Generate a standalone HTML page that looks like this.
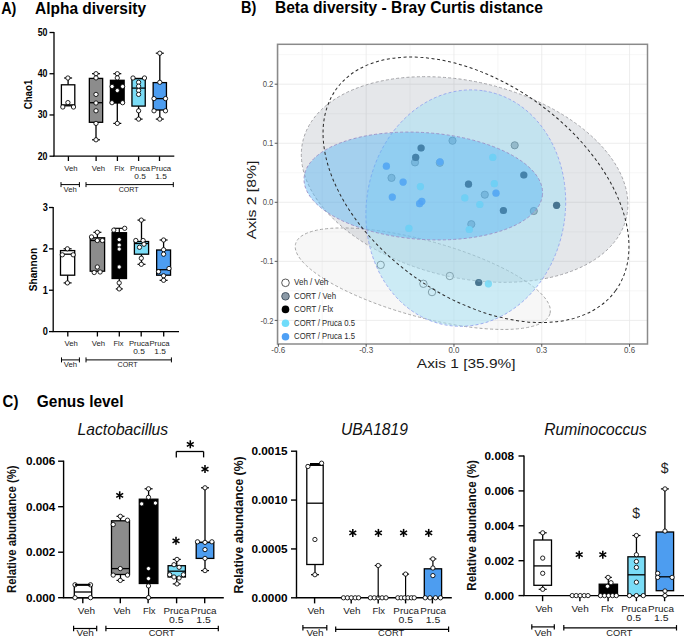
<!DOCTYPE html><html><head><meta charset="utf-8"><style>html,body{margin:0;padding:0;background:#fff;width:685px;height:638px;overflow:hidden}svg{display:block}text{font-family:"Liberation Sans",sans-serif}</style></head><body><svg width="685" height="638" viewBox="0 0 685 638" font-family="Liberation Sans, sans-serif">
<rect width="685" height="638" fill="#fff"/>
<text x="1.2" y="13.6" font-size="16.3" font-weight="bold" font-style="normal" text-anchor="start" fill="#000" textLength="15.2" lengthAdjust="spacingAndGlyphs">A)</text>
<text x="35" y="13.6" font-size="16.3" font-weight="bold" font-style="normal" text-anchor="start" fill="#000" textLength="111" lengthAdjust="spacingAndGlyphs">Alpha diversity</text>
<text x="241" y="13.4" font-size="16.3" font-weight="bold" font-style="normal" text-anchor="start" fill="#000" textLength="15.3" lengthAdjust="spacingAndGlyphs">B)</text>
<text x="274.9" y="13.4" font-size="16.3" font-weight="bold" font-style="normal" text-anchor="start" fill="#000" textLength="268" lengthAdjust="spacingAndGlyphs">Beta diversity - Bray Curtis distance</text>
<text x="2.6" y="406.9" font-size="16.3" font-weight="bold" font-style="normal" text-anchor="start" fill="#000" textLength="15.8" lengthAdjust="spacingAndGlyphs">C)</text>
<text x="36.8" y="406.9" font-size="16.3" font-weight="bold" font-style="normal" text-anchor="start" fill="#000" textLength="86.7" lengthAdjust="spacingAndGlyphs">Genus level</text>
<line x1="54" y1="31.9" x2="54" y2="156.2" stroke="#000" stroke-width="1.3"/>
<line x1="53.4" y1="156.2" x2="174.3" y2="156.2" stroke="#000" stroke-width="1.3"/>
<line x1="49.5" y1="32.5" x2="54" y2="32.5" stroke="#000" stroke-width="1.3"/>
<text x="47.5" y="35.9" font-size="10" font-weight="bold" font-style="normal" text-anchor="end" fill="#000" textLength="9.8" lengthAdjust="spacingAndGlyphs">50</text>
<line x1="49.5" y1="73.73333333333332" x2="54" y2="73.73333333333332" stroke="#000" stroke-width="1.3"/>
<text x="47.5" y="77.13333333333333" font-size="10" font-weight="bold" font-style="normal" text-anchor="end" fill="#000" textLength="9.8" lengthAdjust="spacingAndGlyphs">40</text>
<line x1="49.5" y1="114.96666666666665" x2="54" y2="114.96666666666665" stroke="#000" stroke-width="1.3"/>
<text x="47.5" y="118.36666666666666" font-size="10" font-weight="bold" font-style="normal" text-anchor="end" fill="#000" textLength="9.8" lengthAdjust="spacingAndGlyphs">30</text>
<line x1="49.5" y1="156.2" x2="54" y2="156.2" stroke="#000" stroke-width="1.3"/>
<text x="47.5" y="159.6" font-size="10" font-weight="bold" font-style="normal" text-anchor="end" fill="#000" textLength="9.8" lengthAdjust="spacingAndGlyphs">20</text>
<line x1="68.4" y1="156.2" x2="68.4" y2="161" stroke="#000" stroke-width="1.3"/>
<line x1="96.1" y1="156.2" x2="96.1" y2="161" stroke="#000" stroke-width="1.3"/>
<line x1="117.4" y1="156.2" x2="117.4" y2="161" stroke="#000" stroke-width="1.3"/>
<line x1="138.6" y1="156.2" x2="138.6" y2="161" stroke="#000" stroke-width="1.3"/>
<line x1="159.5" y1="156.2" x2="159.5" y2="161" stroke="#000" stroke-width="1.3"/>
<text transform="translate(32,94.5) rotate(-90)" x="0" y="0" font-size="10.5" font-weight="bold" font-style="normal" text-anchor="middle" fill="#000" textLength="29.6" lengthAdjust="spacingAndGlyphs">Chao1</text>
<line x1="68.1" y1="78.0" x2="68.1" y2="84.8" stroke="#000" stroke-width="1.3"/>
<line x1="64.1" y1="78.0" x2="72.1" y2="78.0" stroke="#000" stroke-width="1.2"/>
<rect x="61.39999999999999" y="84.8" width="13.4" height="21.0" fill="#fff" stroke="#000" stroke-width="1.3"/>
<line x1="61.39999999999999" y1="104.9" x2="74.8" y2="104.9" stroke="#000" stroke-width="1.3"/>
<circle cx="67.9" cy="78.0" r="2.15" fill="#fff" stroke="#000" stroke-width="0.85"/>
<circle cx="67.9" cy="102.6" r="2.15" fill="#fff" stroke="#000" stroke-width="0.85"/>
<circle cx="62.8" cy="107" r="2.15" fill="#fff" stroke="#000" stroke-width="0.85"/>
<circle cx="73.5" cy="107" r="2.15" fill="#fff" stroke="#000" stroke-width="0.85"/>
<line x1="96.0" y1="73.7" x2="96.0" y2="78.4" stroke="#000" stroke-width="1.3"/>
<line x1="92.0" y1="73.7" x2="100.0" y2="73.7" stroke="#000" stroke-width="1.2"/>
<line x1="96.0" y1="122.3" x2="96.0" y2="139.8" stroke="#000" stroke-width="1.3"/>
<line x1="92.0" y1="139.8" x2="100.0" y2="139.8" stroke="#000" stroke-width="1.2"/>
<rect x="89.35" y="78.4" width="13.3" height="43.89999999999999" fill="#8c8c8c" stroke="#000" stroke-width="1.3"/>
<line x1="89.35" y1="102.7" x2="102.65" y2="102.7" stroke="#000" stroke-width="1.3"/>
<circle cx="96" cy="73.7" r="2.15" fill="#fff" stroke="#000" stroke-width="0.85"/>
<circle cx="96" cy="77.9" r="2.15" fill="#fff" stroke="#000" stroke-width="0.85"/>
<circle cx="96" cy="94.4" r="2.15" fill="#fff" stroke="#000" stroke-width="0.85"/>
<circle cx="96" cy="103" r="2.15" fill="#fff" stroke="#000" stroke-width="0.85"/>
<circle cx="96" cy="110.8" r="2.15" fill="#fff" stroke="#000" stroke-width="0.85"/>
<circle cx="96" cy="123.4" r="2.15" fill="#fff" stroke="#000" stroke-width="0.85"/>
<circle cx="96" cy="139.8" r="2.15" fill="#fff" stroke="#000" stroke-width="0.85"/>
<line x1="117.3" y1="73.7" x2="117.3" y2="80.3" stroke="#000" stroke-width="1.3"/>
<line x1="113.3" y1="73.7" x2="121.3" y2="73.7" stroke="#000" stroke-width="1.2"/>
<line x1="117.3" y1="103" x2="117.3" y2="123.4" stroke="#000" stroke-width="1.3"/>
<line x1="113.3" y1="123.4" x2="121.3" y2="123.4" stroke="#000" stroke-width="1.2"/>
<rect x="110.45" y="80.3" width="13.7" height="22.700000000000003" fill="#000" stroke="#000" stroke-width="1.3"/>
<circle cx="117.3" cy="73.7" r="2.15" fill="#fff" stroke="#000" stroke-width="0.85"/>
<circle cx="117.3" cy="77.9" r="2.15" fill="#fff" stroke="#000" stroke-width="0.85"/>
<circle cx="112.1" cy="86.5" r="2.15" fill="#fff" stroke="#000" stroke-width="0.85"/>
<circle cx="122.6" cy="86.5" r="2.15" fill="#fff" stroke="#000" stroke-width="0.85"/>
<circle cx="117.3" cy="90.5" r="2.15" fill="#fff" stroke="#000" stroke-width="0.85"/>
<circle cx="112" cy="102.7" r="2.15" fill="#fff" stroke="#000" stroke-width="0.85"/>
<circle cx="122.6" cy="102.7" r="2.15" fill="#fff" stroke="#000" stroke-width="0.85"/>
<circle cx="117.3" cy="123.4" r="2.15" fill="#fff" stroke="#000" stroke-width="0.85"/>
<line x1="138.6" y1="78.4" x2="138.6" y2="78.7" stroke="#000" stroke-width="1.3"/>
<line x1="134.6" y1="78.4" x2="142.6" y2="78.4" stroke="#000" stroke-width="1.2"/>
<line x1="138.6" y1="106.1" x2="138.6" y2="119.1" stroke="#000" stroke-width="1.3"/>
<line x1="134.6" y1="119.1" x2="142.6" y2="119.1" stroke="#000" stroke-width="1.2"/>
<rect x="131.95" y="78.7" width="13.3" height="27.39999999999999" fill="#7adcf6" stroke="#000" stroke-width="1.3"/>
<line x1="131.95" y1="88.1" x2="145.25" y2="88.1" stroke="#000" stroke-width="1.3"/>
<circle cx="133" cy="78" r="2.15" fill="#fff" stroke="#000" stroke-width="0.85"/>
<circle cx="144.5" cy="78" r="2.15" fill="#fff" stroke="#000" stroke-width="0.85"/>
<circle cx="138.6" cy="82.3" r="2.15" fill="#fff" stroke="#000" stroke-width="0.85"/>
<circle cx="138.6" cy="86.2" r="2.15" fill="#fff" stroke="#000" stroke-width="0.85"/>
<circle cx="138.6" cy="90.5" r="2.15" fill="#fff" stroke="#000" stroke-width="0.85"/>
<circle cx="138.6" cy="94.4" r="2.15" fill="#fff" stroke="#000" stroke-width="0.85"/>
<circle cx="138.6" cy="110.8" r="2.15" fill="#fff" stroke="#000" stroke-width="0.85"/>
<circle cx="138.6" cy="119.1" r="2.15" fill="#fff" stroke="#000" stroke-width="0.85"/>
<line x1="159.8" y1="53.2" x2="159.8" y2="82.6" stroke="#000" stroke-width="1.3"/>
<line x1="155.8" y1="53.2" x2="163.8" y2="53.2" stroke="#000" stroke-width="1.2"/>
<line x1="159.8" y1="110" x2="159.8" y2="119.1" stroke="#000" stroke-width="1.3"/>
<line x1="155.8" y1="119.1" x2="163.8" y2="119.1" stroke="#000" stroke-width="1.2"/>
<rect x="153.15" y="82.6" width="13.3" height="27.400000000000006" fill="#4d9df0" stroke="#000" stroke-width="1.3"/>
<line x1="153.15" y1="98.6" x2="166.45000000000002" y2="98.6" stroke="#000" stroke-width="1.3"/>
<circle cx="159.8" cy="53.2" r="2.15" fill="#fff" stroke="#000" stroke-width="0.85"/>
<circle cx="159.8" cy="82.3" r="2.15" fill="#fff" stroke="#000" stroke-width="0.85"/>
<circle cx="154" cy="98.6" r="2.15" fill="#fff" stroke="#000" stroke-width="0.85"/>
<circle cx="165.5" cy="98.6" r="2.15" fill="#fff" stroke="#000" stroke-width="0.85"/>
<circle cx="154" cy="110.8" r="2.15" fill="#fff" stroke="#000" stroke-width="0.85"/>
<circle cx="165.5" cy="110.8" r="2.15" fill="#fff" stroke="#000" stroke-width="0.85"/>
<circle cx="159.8" cy="119.1" r="2.15" fill="#fff" stroke="#000" stroke-width="0.85"/>
<text x="70.9" y="171.3" font-size="7.8" font-weight="normal" font-style="normal" text-anchor="middle" fill="#1a1a1a" textLength="13.3" lengthAdjust="spacingAndGlyphs">Veh</text>
<text x="98.4" y="171.3" font-size="7.8" font-weight="normal" font-style="normal" text-anchor="middle" fill="#1a1a1a" textLength="13.3" lengthAdjust="spacingAndGlyphs">Veh</text>
<text x="119.3" y="171.3" font-size="7.8" font-weight="normal" font-style="normal" text-anchor="middle" fill="#1a1a1a" textLength="10" lengthAdjust="spacingAndGlyphs">Flx</text>
<text x="140.1" y="171.3" font-size="7.8" font-weight="normal" font-style="normal" text-anchor="middle" fill="#1a1a1a" textLength="20.1" lengthAdjust="spacingAndGlyphs">Pruca</text>
<text x="161" y="171.3" font-size="7.8" font-weight="normal" font-style="normal" text-anchor="middle" fill="#1a1a1a" textLength="20.1" lengthAdjust="spacingAndGlyphs">Pruca</text>
<text x="140.1" y="178.9" font-size="7.8" font-weight="normal" font-style="normal" text-anchor="middle" fill="#1a1a1a" textLength="11.6" lengthAdjust="spacingAndGlyphs">0.5</text>
<text x="161" y="178.9" font-size="7.8" font-weight="normal" font-style="normal" text-anchor="middle" fill="#1a1a1a" textLength="11.6" lengthAdjust="spacingAndGlyphs">1.5</text>
<line x1="61" y1="184.6" x2="79.4" y2="184.6" stroke="#000" stroke-width="1.0"/>
<line x1="61" y1="182.1" x2="61" y2="187.1" stroke="#000" stroke-width="1.0"/>
<line x1="79.4" y1="182.1" x2="79.4" y2="187.1" stroke="#000" stroke-width="1.0"/>
<line x1="86" y1="184.6" x2="173.3" y2="184.6" stroke="#000" stroke-width="1.0"/>
<line x1="86" y1="182.1" x2="86" y2="187.1" stroke="#000" stroke-width="1.0"/>
<line x1="173.3" y1="182.1" x2="173.3" y2="187.1" stroke="#000" stroke-width="1.0"/>
<text x="70.2" y="192.2" font-size="7.6" font-weight="normal" font-style="normal" text-anchor="middle" fill="#222" textLength="13.3" lengthAdjust="spacingAndGlyphs">Veh</text>
<text x="128.7" y="192.2" font-size="7.6" font-weight="normal" font-style="normal" text-anchor="middle" fill="#222" textLength="20" lengthAdjust="spacingAndGlyphs">CORT</text>
<line x1="53.2" y1="206.9" x2="53.2" y2="331.6" stroke="#000" stroke-width="1.3"/>
<line x1="52.6" y1="331.6" x2="179" y2="331.6" stroke="#000" stroke-width="1.3"/>
<line x1="49" y1="207.5" x2="53.2" y2="207.5" stroke="#000" stroke-width="1.3"/>
<text x="47.9" y="210.9" font-size="10" font-weight="bold" font-style="normal" text-anchor="end" fill="#000" textLength="5.1" lengthAdjust="spacingAndGlyphs">3</text>
<line x1="49" y1="248.86666666666667" x2="53.2" y2="248.86666666666667" stroke="#000" stroke-width="1.3"/>
<text x="47.9" y="252.26666666666668" font-size="10" font-weight="bold" font-style="normal" text-anchor="end" fill="#000" textLength="5.1" lengthAdjust="spacingAndGlyphs">2</text>
<line x1="49" y1="290.23333333333335" x2="53.2" y2="290.23333333333335" stroke="#000" stroke-width="1.3"/>
<text x="47.9" y="293.6333333333333" font-size="10" font-weight="bold" font-style="normal" text-anchor="end" fill="#000" textLength="5.1" lengthAdjust="spacingAndGlyphs">1</text>
<line x1="49" y1="331.6" x2="53.2" y2="331.6" stroke="#000" stroke-width="1.3"/>
<text x="47.9" y="335.0" font-size="10" font-weight="bold" font-style="normal" text-anchor="end" fill="#000" textLength="5.1" lengthAdjust="spacingAndGlyphs">0</text>
<line x1="67.8" y1="331.6" x2="67.8" y2="336.5" stroke="#000" stroke-width="1.3"/>
<line x1="97.4" y1="331.6" x2="97.4" y2="336.5" stroke="#000" stroke-width="1.3"/>
<line x1="119.3" y1="331.6" x2="119.3" y2="336.5" stroke="#000" stroke-width="1.3"/>
<line x1="141.2" y1="331.6" x2="141.2" y2="336.5" stroke="#000" stroke-width="1.3"/>
<line x1="163.7" y1="331.6" x2="163.7" y2="336.5" stroke="#000" stroke-width="1.3"/>
<text transform="translate(37.3,269.6) rotate(-90)" x="0" y="0" font-size="10.5" font-weight="bold" font-style="normal" text-anchor="middle" fill="#000" textLength="43.5" lengthAdjust="spacingAndGlyphs">Shannon</text>
<line x1="67.6" y1="248.8" x2="67.6" y2="250.6" stroke="#000" stroke-width="1.3"/>
<line x1="63.599999999999994" y1="248.8" x2="71.6" y2="248.8" stroke="#000" stroke-width="1.2"/>
<line x1="67.6" y1="275.2" x2="67.6" y2="282.9" stroke="#000" stroke-width="1.3"/>
<line x1="63.599999999999994" y1="282.9" x2="71.6" y2="282.9" stroke="#000" stroke-width="1.2"/>
<rect x="60.49999999999999" y="250.6" width="14.2" height="24.599999999999994" fill="#fff" stroke="#000" stroke-width="1.3"/>
<line x1="60.49999999999999" y1="254.2" x2="74.69999999999999" y2="254.2" stroke="#000" stroke-width="1.3"/>
<circle cx="67.4" cy="248.8" r="2.15" fill="#fff" stroke="#000" stroke-width="0.85"/>
<circle cx="62.3" cy="254.8" r="2.15" fill="#fff" stroke="#000" stroke-width="0.85"/>
<circle cx="73.2" cy="254.8" r="2.15" fill="#fff" stroke="#000" stroke-width="0.85"/>
<circle cx="67.4" cy="282.9" r="2.15" fill="#fff" stroke="#000" stroke-width="0.85"/>
<line x1="97.4" y1="232.3" x2="97.4" y2="237.8" stroke="#000" stroke-width="1.3"/>
<line x1="93.4" y1="232.3" x2="101.4" y2="232.3" stroke="#000" stroke-width="1.2"/>
<rect x="90.2" y="237.8" width="14.4" height="33.39999999999998" fill="#8c8c8c" stroke="#000" stroke-width="1.3"/>
<line x1="90.2" y1="240.5" x2="104.60000000000001" y2="240.5" stroke="#000" stroke-width="1.3"/>
<circle cx="97.3" cy="232.3" r="2.15" fill="#fff" stroke="#000" stroke-width="0.85"/>
<circle cx="91.5" cy="236.9" r="2.15" fill="#fff" stroke="#000" stroke-width="0.85"/>
<circle cx="97.3" cy="240.5" r="2.15" fill="#fff" stroke="#000" stroke-width="0.85"/>
<circle cx="102.4" cy="240.5" r="2.15" fill="#fff" stroke="#000" stroke-width="0.85"/>
<circle cx="97.3" cy="267" r="2.15" fill="#fff" stroke="#000" stroke-width="0.85"/>
<circle cx="94.2" cy="272.5" r="2.15" fill="#fff" stroke="#000" stroke-width="0.85"/>
<circle cx="100.1" cy="272" r="2.15" fill="#fff" stroke="#000" stroke-width="0.85"/>
<line x1="119.3" y1="228.3" x2="119.3" y2="232.7" stroke="#000" stroke-width="1.2"/>
<line x1="113.8" y1="228.3" x2="124.7" y2="228.3" stroke="#000" stroke-width="1.2"/>
<line x1="119.3" y1="278.5" x2="119.3" y2="288.9" stroke="#000" stroke-width="1.2"/>
<line x1="115.8" y1="288.9" x2="122.8" y2="288.9" stroke="#000" stroke-width="1.2"/>
<rect x="112.1" y="232.7" width="14.4" height="45.8" fill="#000" stroke="#000" stroke-width="1.3"/>
<circle cx="113.8" cy="230.1" r="2.15" fill="#fff" stroke="#000" stroke-width="0.85"/>
<circle cx="124.7" cy="228.3" r="2.15" fill="#fff" stroke="#000" stroke-width="0.85"/>
<circle cx="119.2" cy="239.6" r="2.15" fill="#fff" stroke="#000" stroke-width="0.85"/>
<circle cx="119.2" cy="245.1" r="2.15" fill="#fff" stroke="#000" stroke-width="0.85"/>
<circle cx="119.2" cy="249.1" r="2.15" fill="#fff" stroke="#000" stroke-width="0.85"/>
<circle cx="119.2" cy="267" r="2.15" fill="#fff" stroke="#000" stroke-width="0.85"/>
<circle cx="119.2" cy="282.9" r="2.15" fill="#fff" stroke="#000" stroke-width="0.85"/>
<circle cx="119.2" cy="288.9" r="2.15" fill="#fff" stroke="#000" stroke-width="0.85"/>
<line x1="141.5" y1="220.1" x2="141.5" y2="241.5" stroke="#000" stroke-width="1.3"/>
<line x1="137.5" y1="220.1" x2="145.5" y2="220.1" stroke="#000" stroke-width="1.2"/>
<line x1="141.5" y1="254.2" x2="141.5" y2="264.3" stroke="#000" stroke-width="1.3"/>
<line x1="137.5" y1="264.3" x2="145.5" y2="264.3" stroke="#000" stroke-width="1.2"/>
<rect x="134.4" y="241.5" width="14.2" height="12.699999999999989" fill="#7adcf6" stroke="#000" stroke-width="1.3"/>
<line x1="134.4" y1="243.5" x2="148.6" y2="243.5" stroke="#000" stroke-width="1.3"/>
<circle cx="141.3" cy="220.1" r="2.15" fill="#fff" stroke="#000" stroke-width="0.85"/>
<circle cx="135.8" cy="240.5" r="2.15" fill="#fff" stroke="#000" stroke-width="0.85"/>
<circle cx="143.1" cy="240.5" r="2.15" fill="#fff" stroke="#000" stroke-width="0.85"/>
<circle cx="144" cy="244.2" r="2.15" fill="#fff" stroke="#000" stroke-width="0.85"/>
<circle cx="139.5" cy="247.3" r="2.15" fill="#fff" stroke="#000" stroke-width="0.85"/>
<circle cx="141.3" cy="258.2" r="2.15" fill="#fff" stroke="#000" stroke-width="0.85"/>
<circle cx="141.3" cy="264.3" r="2.15" fill="#fff" stroke="#000" stroke-width="0.85"/>
<line x1="163.6" y1="240" x2="163.6" y2="250" stroke="#000" stroke-width="1.3"/>
<line x1="159.6" y1="240" x2="167.6" y2="240" stroke="#000" stroke-width="1.2"/>
<line x1="163.6" y1="275.2" x2="163.6" y2="280.3" stroke="#000" stroke-width="1.3"/>
<line x1="159.6" y1="280.3" x2="167.6" y2="280.3" stroke="#000" stroke-width="1.2"/>
<rect x="156.65" y="250" width="13.9" height="25.19999999999999" fill="#4d9df0" stroke="#000" stroke-width="1.3"/>
<line x1="156.65" y1="269.7" x2="170.54999999999998" y2="269.7" stroke="#000" stroke-width="1.3"/>
<circle cx="163.6" cy="240" r="2.15" fill="#fff" stroke="#000" stroke-width="0.85"/>
<circle cx="163.6" cy="249.7" r="2.15" fill="#fff" stroke="#000" stroke-width="0.85"/>
<circle cx="163.6" cy="254.2" r="2.15" fill="#fff" stroke="#000" stroke-width="0.85"/>
<circle cx="169" cy="268.5" r="2.15" fill="#fff" stroke="#000" stroke-width="0.85"/>
<circle cx="158.5" cy="271.6" r="2.15" fill="#fff" stroke="#000" stroke-width="0.85"/>
<circle cx="163.6" cy="275.8" r="2.15" fill="#fff" stroke="#000" stroke-width="0.85"/>
<circle cx="163.6" cy="280.3" r="2.15" fill="#fff" stroke="#000" stroke-width="0.85"/>
<text x="71.1" y="345.7" font-size="7.8" font-weight="normal" font-style="normal" text-anchor="middle" fill="#1a1a1a" textLength="13.3" lengthAdjust="spacingAndGlyphs">Veh</text>
<text x="98.5" y="345.7" font-size="7.8" font-weight="normal" font-style="normal" text-anchor="middle" fill="#1a1a1a" textLength="13.3" lengthAdjust="spacingAndGlyphs">Veh</text>
<text x="118.5" y="345.7" font-size="7.8" font-weight="normal" font-style="normal" text-anchor="middle" fill="#1a1a1a" textLength="10" lengthAdjust="spacingAndGlyphs">Flx</text>
<text x="139" y="345.7" font-size="7.8" font-weight="normal" font-style="normal" text-anchor="middle" fill="#1a1a1a" textLength="20.1" lengthAdjust="spacingAndGlyphs">Pruca</text>
<text x="159.5" y="345.7" font-size="7.8" font-weight="normal" font-style="normal" text-anchor="middle" fill="#1a1a1a" textLength="20.1" lengthAdjust="spacingAndGlyphs">Pruca</text>
<text x="139" y="354.0" font-size="7.8" font-weight="normal" font-style="normal" text-anchor="middle" fill="#1a1a1a" textLength="11.6" lengthAdjust="spacingAndGlyphs">0.5</text>
<text x="160.1" y="354.0" font-size="7.8" font-weight="normal" font-style="normal" text-anchor="middle" fill="#1a1a1a" textLength="11.6" lengthAdjust="spacingAndGlyphs">1.5</text>
<line x1="61.5" y1="359.9" x2="79.4" y2="359.9" stroke="#000" stroke-width="1.0"/>
<line x1="61.5" y1="357.4" x2="61.5" y2="362.4" stroke="#000" stroke-width="1.0"/>
<line x1="79.4" y1="357.4" x2="79.4" y2="362.4" stroke="#000" stroke-width="1.0"/>
<line x1="86" y1="359.9" x2="171.4" y2="359.9" stroke="#000" stroke-width="1.0"/>
<line x1="86" y1="357.4" x2="86" y2="362.4" stroke="#000" stroke-width="1.0"/>
<line x1="171.4" y1="357.4" x2="171.4" y2="362.4" stroke="#000" stroke-width="1.0"/>
<text x="70.5" y="366.5" font-size="7.6" font-weight="normal" font-style="normal" text-anchor="middle" fill="#222" textLength="13.3" lengthAdjust="spacingAndGlyphs">Veh</text>
<text x="127.6" y="366.5" font-size="7.6" font-weight="normal" font-style="normal" text-anchor="middle" fill="#222" textLength="20" lengthAdjust="spacingAndGlyphs">CORT</text>
<defs><clipPath id="pc"><rect x="277.5" y="44.3" width="370.0" height="299.7"/></clipPath></defs>
<g clip-path="url(#pc)">
<line x1="322.26" y1="44.3" x2="322.26" y2="344.0" stroke="#f0f0f0" stroke-width="0.6"/>
<line x1="410.06" y1="44.3" x2="410.06" y2="344.0" stroke="#f0f0f0" stroke-width="0.6"/>
<line x1="497.86" y1="44.3" x2="497.86" y2="344.0" stroke="#f0f0f0" stroke-width="0.6"/>
<line x1="585.66" y1="44.3" x2="585.66" y2="344.0" stroke="#f0f0f0" stroke-width="0.6"/>
<line x1="277.5" y1="54.68" x2="647.5" y2="54.68" stroke="#f0f0f0" stroke-width="0.6"/>
<line x1="277.5" y1="113.73" x2="647.5" y2="113.73" stroke="#f0f0f0" stroke-width="0.6"/>
<line x1="277.5" y1="172.78" x2="647.5" y2="172.78" stroke="#f0f0f0" stroke-width="0.6"/>
<line x1="277.5" y1="231.83" x2="647.5" y2="231.83" stroke="#f0f0f0" stroke-width="0.6"/>
<line x1="277.5" y1="290.88" x2="647.5" y2="290.88" stroke="#f0f0f0" stroke-width="0.6"/>
<line x1="278.36" y1="44.3" x2="278.36" y2="344.0" stroke="#e9e9e9" stroke-width="0.8"/>
<line x1="366.16" y1="44.3" x2="366.16" y2="344.0" stroke="#e9e9e9" stroke-width="0.8"/>
<line x1="453.96" y1="44.3" x2="453.96" y2="344.0" stroke="#e9e9e9" stroke-width="0.8"/>
<line x1="541.76" y1="44.3" x2="541.76" y2="344.0" stroke="#e9e9e9" stroke-width="0.8"/>
<line x1="629.56" y1="44.3" x2="629.56" y2="344.0" stroke="#e9e9e9" stroke-width="0.8"/>
<line x1="277.5" y1="84.2" x2="647.5" y2="84.2" stroke="#e9e9e9" stroke-width="0.8"/>
<line x1="277.5" y1="143.25" x2="647.5" y2="143.25" stroke="#e9e9e9" stroke-width="0.8"/>
<line x1="277.5" y1="202.3" x2="647.5" y2="202.3" stroke="#e9e9e9" stroke-width="0.8"/>
<line x1="277.5" y1="261.35" x2="647.5" y2="261.35" stroke="#e9e9e9" stroke-width="0.8"/>
<line x1="277.5" y1="320.4" x2="647.5" y2="320.4" stroke="#e9e9e9" stroke-width="0.8"/>
<circle cx="380.7" cy="264.9" r="3.7" fill="none" stroke="#3a3a3a" stroke-width="0.9"/>
<circle cx="423.4" cy="283.8" r="3.7" fill="none" stroke="#3a3a3a" stroke-width="0.9"/>
<circle cx="432" cy="292.1" r="3.7" fill="none" stroke="#3a3a3a" stroke-width="0.9"/>
<circle cx="449.8" cy="276" r="3.7" fill="none" stroke="#3a3a3a" stroke-width="0.9"/>
<circle cx="452.5" cy="140.7" r="3.6" fill="#8a99a6" stroke="#2d3b47" stroke-width="0.9"/>
<circle cx="415" cy="162.4" r="3.6" fill="#8a99a6" stroke="#2d3b47" stroke-width="0.9"/>
<circle cx="391.5" cy="177.9" r="3.6" fill="#8a99a6" stroke="#2d3b47" stroke-width="0.9"/>
<circle cx="439.8" cy="162.8" r="3.6" fill="#8a99a6" stroke="#2d3b47" stroke-width="0.9"/>
<circle cx="514.7" cy="145.3" r="3.6" fill="#8a99a6" stroke="#2d3b47" stroke-width="0.9"/>
<circle cx="484.8" cy="194.7" r="3.6" fill="#8a99a6" stroke="#2d3b47" stroke-width="0.9"/>
<circle cx="533.8" cy="211" r="3.6" fill="#8a99a6" stroke="#2d3b47" stroke-width="0.9"/>
<circle cx="471.3" cy="224.2" r="3.6" fill="#8a99a6" stroke="#2d3b47" stroke-width="0.9"/>
<circle cx="421.1" cy="148" r="3.6" fill="#000" stroke="none" stroke-width="0"/>
<circle cx="415.7" cy="157.4" r="3.6" fill="#000" stroke="none" stroke-width="0"/>
<circle cx="468.5" cy="184.2" r="3.6" fill="#000" stroke="none" stroke-width="0"/>
<circle cx="523.8" cy="175" r="3.6" fill="#000" stroke="none" stroke-width="0"/>
<circle cx="556.6" cy="205.3" r="3.6" fill="#000" stroke="none" stroke-width="0"/>
<circle cx="503.4" cy="210.5" r="3.6" fill="#000" stroke="none" stroke-width="0"/>
<circle cx="478.7" cy="282.5" r="3.6" fill="#000" stroke="none" stroke-width="0"/>
<circle cx="420.4" cy="186.6" r="3.6" fill="#6fdcfb" stroke="none" stroke-width="0"/>
<circle cx="464.8" cy="197.9" r="3.6" fill="#6fdcfb" stroke="none" stroke-width="0"/>
<circle cx="492.8" cy="157.4" r="3.6" fill="#6fdcfb" stroke="none" stroke-width="0"/>
<circle cx="494.3" cy="183.7" r="3.6" fill="#6fdcfb" stroke="none" stroke-width="0"/>
<circle cx="479.8" cy="204.5" r="3.6" fill="#6fdcfb" stroke="none" stroke-width="0"/>
<circle cx="408.9" cy="228.4" r="3.6" fill="#6fdcfb" stroke="none" stroke-width="0"/>
<circle cx="488.4" cy="283.8" r="3.6" fill="#6fdcfb" stroke="none" stroke-width="0"/>
<circle cx="469.3" cy="229.5" r="3.6" fill="#6fdcfb" stroke="none" stroke-width="0"/>
<circle cx="386.4" cy="166.2" r="3.6" fill="#4c9ff6" stroke="none" stroke-width="0"/>
<circle cx="440" cy="161.8" r="3.6" fill="#4c9ff6" stroke="none" stroke-width="0"/>
<circle cx="403.1" cy="182.1" r="3.6" fill="#4c9ff6" stroke="none" stroke-width="0"/>
<circle cx="392.3" cy="197.1" r="3.6" fill="#4c9ff6" stroke="none" stroke-width="0"/>
<circle cx="421.8" cy="201.3" r="3.6" fill="#4c9ff6" stroke="none" stroke-width="0"/>
<circle cx="419.6" cy="203.7" r="3.6" fill="#4c9ff6" stroke="none" stroke-width="0"/>
<circle cx="496" cy="193.2" r="3.6" fill="#4c9ff6" stroke="none" stroke-width="0"/>
<ellipse cx="422.8" cy="278.7" rx="131.9" ry="38.1" transform="rotate(15.4 422.8 278.7)" fill="#c8c8c8" fill-opacity="0.15" stroke="#a6a6a6" stroke-opacity="1" stroke-width="0.9" stroke-dasharray="3,2.2"/>
<ellipse cx="464.6" cy="179.5" rx="166.2" ry="98.0" transform="rotate(13.4 464.6 179.5)" fill="#7f8596" fill-opacity="0.2" stroke="#a2a2a6" stroke-opacity="1" stroke-width="0.9" stroke-dasharray="3,2.2"/>
<ellipse cx="465.8" cy="208.1" rx="118.6" ry="99.4" transform="rotate(-81.3 465.8 208.1)" fill="#a1dff3" fill-opacity="0.5" stroke="#98a8ee" stroke-opacity="1" stroke-width="0.9" stroke-dasharray="3,2.2"/>
<ellipse cx="423.3" cy="186.0" rx="119.5" ry="53.4" transform="rotate(4.0 423.3 186.0)" fill="#55b4f5" fill-opacity="0.45" stroke="#9a90c8" stroke-opacity="1" stroke-width="0.9" stroke-dasharray="3,2.2"/>
<ellipse cx="476.0" cy="189.8" rx="172.2" ry="106.6" transform="rotate(35.8 476.0 189.8)" fill="none" fill-opacity="0" stroke="#2a2a2a" stroke-opacity="1" stroke-width="1.0" stroke-dasharray="3,2.6"/>
<circle cx="421.1" cy="148" r="3.6" fill="#2c6a9a" stroke="none" stroke-width="0" fill-opacity="0.45"/>
<circle cx="415.7" cy="157.4" r="3.6" fill="#2c6a9a" stroke="none" stroke-width="0" fill-opacity="0.45"/>
<circle cx="468.5" cy="184.2" r="3.6" fill="#2c6a9a" stroke="none" stroke-width="0" fill-opacity="0.45"/>
<circle cx="523.8" cy="175" r="3.6" fill="#2c6a9a" stroke="none" stroke-width="0" fill-opacity="0.45"/>
<circle cx="556.6" cy="205.3" r="3.6" fill="#2c6a9a" stroke="none" stroke-width="0" fill-opacity="0.45"/>
<circle cx="503.4" cy="210.5" r="3.6" fill="#2c6a9a" stroke="none" stroke-width="0" fill-opacity="0.45"/>
<circle cx="478.7" cy="282.5" r="3.6" fill="#2c6a9a" stroke="none" stroke-width="0" fill-opacity="0.45"/>
<circle cx="420.4" cy="186.6" r="3.6" fill="#6fdcfb" stroke="none" stroke-width="0" fill-opacity="0.45"/>
<circle cx="464.8" cy="197.9" r="3.6" fill="#6fdcfb" stroke="none" stroke-width="0" fill-opacity="0.45"/>
<circle cx="492.8" cy="157.4" r="3.6" fill="#6fdcfb" stroke="none" stroke-width="0" fill-opacity="0.45"/>
<circle cx="494.3" cy="183.7" r="3.6" fill="#6fdcfb" stroke="none" stroke-width="0" fill-opacity="0.45"/>
<circle cx="479.8" cy="204.5" r="3.6" fill="#6fdcfb" stroke="none" stroke-width="0" fill-opacity="0.45"/>
<circle cx="408.9" cy="228.4" r="3.6" fill="#6fdcfb" stroke="none" stroke-width="0" fill-opacity="0.45"/>
<circle cx="488.4" cy="283.8" r="3.6" fill="#6fdcfb" stroke="none" stroke-width="0" fill-opacity="0.45"/>
<circle cx="469.3" cy="229.5" r="3.6" fill="#6fdcfb" stroke="none" stroke-width="0" fill-opacity="0.45"/>
<circle cx="386.4" cy="166.2" r="3.6" fill="#4c9ff6" stroke="none" stroke-width="0" fill-opacity="0.55"/>
<circle cx="440" cy="161.8" r="3.6" fill="#4c9ff6" stroke="none" stroke-width="0" fill-opacity="0.55"/>
<circle cx="403.1" cy="182.1" r="3.6" fill="#4c9ff6" stroke="none" stroke-width="0" fill-opacity="0.55"/>
<circle cx="392.3" cy="197.1" r="3.6" fill="#4c9ff6" stroke="none" stroke-width="0" fill-opacity="0.55"/>
<circle cx="421.8" cy="201.3" r="3.6" fill="#4c9ff6" stroke="none" stroke-width="0" fill-opacity="0.55"/>
<circle cx="419.6" cy="203.7" r="3.6" fill="#4c9ff6" stroke="none" stroke-width="0" fill-opacity="0.55"/>
<circle cx="496" cy="193.2" r="3.6" fill="#4c9ff6" stroke="none" stroke-width="0" fill-opacity="0.55"/>
</g>
<rect x="277.5" y="44.3" width="370.0" height="299.7" fill="none" stroke="#8a8a8a" stroke-width="1.5"/>
<line x1="278.36" y1="344.0" x2="278.36" y2="346.8" stroke="#444" stroke-width="0.9"/>
<text x="278.36" y="352.8" font-size="8.8" font-weight="normal" font-style="normal" text-anchor="middle" fill="#4d4d4d" textLength="14" lengthAdjust="spacingAndGlyphs">-0.6</text>
<line x1="366.16" y1="344.0" x2="366.16" y2="346.8" stroke="#444" stroke-width="0.9"/>
<text x="366.16" y="352.8" font-size="8.8" font-weight="normal" font-style="normal" text-anchor="middle" fill="#4d4d4d" textLength="14" lengthAdjust="spacingAndGlyphs">-0.3</text>
<line x1="453.96" y1="344.0" x2="453.96" y2="346.8" stroke="#444" stroke-width="0.9"/>
<text x="453.96" y="352.8" font-size="8.8" font-weight="normal" font-style="normal" text-anchor="middle" fill="#4d4d4d" textLength="11" lengthAdjust="spacingAndGlyphs">0.0</text>
<line x1="541.76" y1="344.0" x2="541.76" y2="346.8" stroke="#444" stroke-width="0.9"/>
<text x="541.76" y="352.8" font-size="8.8" font-weight="normal" font-style="normal" text-anchor="middle" fill="#4d4d4d" textLength="11" lengthAdjust="spacingAndGlyphs">0.3</text>
<line x1="629.56" y1="344.0" x2="629.56" y2="346.8" stroke="#444" stroke-width="0.9"/>
<text x="629.56" y="352.8" font-size="8.8" font-weight="normal" font-style="normal" text-anchor="middle" fill="#4d4d4d" textLength="11" lengthAdjust="spacingAndGlyphs">0.6</text>
<line x1="274.7" y1="84.2" x2="277.5" y2="84.2" stroke="#444" stroke-width="0.9"/>
<text x="273.4" y="87.3" font-size="8.8" font-weight="normal" font-style="normal" text-anchor="end" fill="#4d4d4d" textLength="10.7" lengthAdjust="spacingAndGlyphs">0.2</text>
<line x1="274.7" y1="143.25" x2="277.5" y2="143.25" stroke="#444" stroke-width="0.9"/>
<text x="273.4" y="146.35" font-size="8.8" font-weight="normal" font-style="normal" text-anchor="end" fill="#4d4d4d" textLength="10.7" lengthAdjust="spacingAndGlyphs">0.1</text>
<line x1="274.7" y1="202.3" x2="277.5" y2="202.3" stroke="#444" stroke-width="0.9"/>
<text x="273.4" y="205.4" font-size="8.8" font-weight="normal" font-style="normal" text-anchor="end" fill="#4d4d4d" textLength="10.7" lengthAdjust="spacingAndGlyphs">0.0</text>
<line x1="274.7" y1="261.35" x2="277.5" y2="261.35" stroke="#444" stroke-width="0.9"/>
<text x="273.4" y="264.45000000000005" font-size="8.8" font-weight="normal" font-style="normal" text-anchor="end" fill="#4d4d4d" textLength="13" lengthAdjust="spacingAndGlyphs">-0.1</text>
<line x1="274.7" y1="320.4" x2="277.5" y2="320.4" stroke="#444" stroke-width="0.9"/>
<text x="273.4" y="323.5" font-size="8.8" font-weight="normal" font-style="normal" text-anchor="end" fill="#4d4d4d" textLength="13" lengthAdjust="spacingAndGlyphs">-0.2</text>
<text x="466.2" y="368.1" font-size="13.2" font-weight="normal" font-style="normal" text-anchor="middle" fill="#1a1a1a" textLength="98.7" lengthAdjust="spacingAndGlyphs">Axis 1 [35.9%]</text>
<text transform="translate(255.6,200) rotate(-90)" x="0" y="0" font-size="13" font-weight="normal" font-style="normal" text-anchor="middle" fill="#1a1a1a" textLength="78.7" lengthAdjust="spacingAndGlyphs">Axis 2 [8%]</text>
<circle cx="285.5" cy="282.8" r="3.8" fill="#fff" stroke="#444" stroke-width="0.9"/>
<text x="294.1" y="285.3" font-size="9.4" font-weight="normal" font-style="normal" text-anchor="start" fill="#2a2a2a" textLength="34.2" lengthAdjust="spacingAndGlyphs">Veh / Veh</text>
<circle cx="285.5" cy="296.3" r="3.8" fill="#8a99a6" stroke="#3a4a58" stroke-width="0.9"/>
<text x="294.1" y="298.8" font-size="9.4" font-weight="normal" font-style="normal" text-anchor="start" fill="#2a2a2a" textLength="41.9" lengthAdjust="spacingAndGlyphs">CORT / Veh</text>
<circle cx="285.5" cy="309.4" r="3.8" fill="#000" stroke="none" stroke-width="0"/>
<text x="294.1" y="311.9" font-size="9.4" font-weight="normal" font-style="normal" text-anchor="start" fill="#2a2a2a" textLength="39" lengthAdjust="spacingAndGlyphs">CORT / Flx</text>
<circle cx="285.5" cy="323.3" r="3.8" fill="#6fdcfa" stroke="none" stroke-width="0"/>
<text x="294.1" y="325.8" font-size="9.4" font-weight="normal" font-style="normal" text-anchor="start" fill="#2a2a2a" textLength="60.9" lengthAdjust="spacingAndGlyphs">CORT / Pruca 0.5</text>
<circle cx="285.5" cy="336.7" r="3.8" fill="#4ea0f5" stroke="none" stroke-width="0"/>
<text x="294.1" y="339.2" font-size="9.4" font-weight="normal" font-style="normal" text-anchor="start" fill="#2a2a2a" textLength="60.9" lengthAdjust="spacingAndGlyphs">CORT / Pruca 1.5</text>
<line x1="63.6" y1="460.59999999999997" x2="63.6" y2="597.7" stroke="#000" stroke-width="1.4"/>
<line x1="62.9" y1="597.7" x2="223.8" y2="597.7" stroke="#000" stroke-width="1.4"/>
<line x1="58.1" y1="461.2" x2="63.6" y2="461.2" stroke="#000" stroke-width="1.4"/>
<text x="55.4" y="465.3" font-size="10" font-weight="bold" font-style="normal" text-anchor="end" fill="#000" textLength="29.4" lengthAdjust="spacingAndGlyphs">0.006</text>
<line x1="58.1" y1="506.7" x2="63.6" y2="506.7" stroke="#000" stroke-width="1.4"/>
<text x="55.4" y="510.8" font-size="10" font-weight="bold" font-style="normal" text-anchor="end" fill="#000" textLength="29.4" lengthAdjust="spacingAndGlyphs">0.004</text>
<line x1="58.1" y1="552.2" x2="63.6" y2="552.2" stroke="#000" stroke-width="1.4"/>
<text x="55.4" y="556.3000000000001" font-size="10" font-weight="bold" font-style="normal" text-anchor="end" fill="#000" textLength="29.4" lengthAdjust="spacingAndGlyphs">0.002</text>
<line x1="58.1" y1="597.7" x2="63.6" y2="597.7" stroke="#000" stroke-width="1.4"/>
<text x="55.4" y="601.8000000000001" font-size="10" font-weight="bold" font-style="normal" text-anchor="end" fill="#000" textLength="29.4" lengthAdjust="spacingAndGlyphs">0.000</text>
<line x1="82.8" y1="597.7" x2="82.8" y2="603.3000000000001" stroke="#000" stroke-width="1.4"/>
<line x1="120.3" y1="597.7" x2="120.3" y2="603.3000000000001" stroke="#000" stroke-width="1.4"/>
<line x1="148.1" y1="597.7" x2="148.1" y2="603.3000000000001" stroke="#000" stroke-width="1.4"/>
<line x1="176.6" y1="597.7" x2="176.6" y2="603.3000000000001" stroke="#000" stroke-width="1.4"/>
<line x1="204.7" y1="597.7" x2="204.7" y2="603.3000000000001" stroke="#000" stroke-width="1.4"/>
<text transform="translate(15.6,529.2) rotate(-90)" x="0" y="0" font-size="13.6" font-weight="bold" font-style="normal" text-anchor="middle" fill="#111" textLength="127.5" lengthAdjust="spacingAndGlyphs">Relative abundance (%)</text>
<text x="77.5" y="434.7" font-size="16.4" font-weight="normal" font-style="italic" text-anchor="start" fill="#111" textLength="90.7" lengthAdjust="spacingAndGlyphs">Lactobacillus</text>
<text x="86.4" y="613.7" font-size="9.4" font-weight="normal" font-style="normal" text-anchor="middle" fill="#1a1a1a" textLength="17.2" lengthAdjust="spacingAndGlyphs">Veh</text>
<text x="122" y="613.7" font-size="9.4" font-weight="normal" font-style="normal" text-anchor="middle" fill="#1a1a1a" textLength="17.2" lengthAdjust="spacingAndGlyphs">Veh</text>
<text x="149.3" y="613.7" font-size="9.4" font-weight="normal" font-style="normal" text-anchor="middle" fill="#1a1a1a" textLength="12.6" lengthAdjust="spacingAndGlyphs">Flx</text>
<text x="176.4" y="613.7" font-size="9.4" font-weight="normal" font-style="normal" text-anchor="middle" fill="#1a1a1a" textLength="25.8" lengthAdjust="spacingAndGlyphs">Pruca</text>
<text x="203.7" y="613.7" font-size="9.4" font-weight="normal" font-style="normal" text-anchor="middle" fill="#1a1a1a" textLength="25.8" lengthAdjust="spacingAndGlyphs">Pruca</text>
<text x="176.2" y="622.7" font-size="9.4" font-weight="normal" font-style="normal" text-anchor="middle" fill="#1a1a1a" textLength="14.6" lengthAdjust="spacingAndGlyphs">0.5</text>
<text x="203.6" y="622.7" font-size="9.4" font-weight="normal" font-style="normal" text-anchor="middle" fill="#1a1a1a" textLength="14.6" lengthAdjust="spacingAndGlyphs">1.5</text>
<line x1="73.6" y1="628.5" x2="96.7" y2="628.5" stroke="#000" stroke-width="1.2"/>
<line x1="73.6" y1="625.8" x2="73.6" y2="631.2" stroke="#000" stroke-width="1.2"/>
<line x1="96.7" y1="625.8" x2="96.7" y2="631.2" stroke="#000" stroke-width="1.2"/>
<line x1="105.9" y1="628.5" x2="218.3" y2="628.5" stroke="#000" stroke-width="1.2"/>
<line x1="105.9" y1="625.8" x2="105.9" y2="631.2" stroke="#000" stroke-width="1.2"/>
<line x1="218.3" y1="625.8" x2="218.3" y2="631.2" stroke="#000" stroke-width="1.2"/>
<text x="85.2" y="636.1" font-size="9.4" font-weight="normal" font-style="normal" text-anchor="middle" fill="#1a1a1a" textLength="17.2" lengthAdjust="spacingAndGlyphs">Veh</text>
<text x="161.7" y="636.1" font-size="9.4" font-weight="normal" font-style="normal" text-anchor="middle" fill="#1a1a1a" textLength="26" lengthAdjust="spacingAndGlyphs">CORT</text>
<rect x="74.3" y="584.8" width="17.4" height="12.900000000000091" fill="#fff" stroke="#000" stroke-width="1.3"/>
<line x1="74.3" y1="592" x2="91.7" y2="592" stroke="#000" stroke-width="1.3"/>
<circle cx="75" cy="584.8" r="2.15" fill="#fff" stroke="#000" stroke-width="0.85"/>
<circle cx="90.5" cy="584.8" r="2.15" fill="#fff" stroke="#000" stroke-width="0.85"/>
<circle cx="75" cy="597.7" r="2.15" fill="#fff" stroke="#000" stroke-width="0.85"/>
<circle cx="90.5" cy="597.7" r="2.15" fill="#fff" stroke="#000" stroke-width="0.85"/>
<line x1="75" y1="584.8" x2="90.5" y2="584.8" stroke="#000" stroke-width="2.0"/>
<line x1="120.5" y1="516.3" x2="120.5" y2="520.8" stroke="#000" stroke-width="1.3"/>
<line x1="116.5" y1="516.3" x2="124.5" y2="516.3" stroke="#000" stroke-width="1.2"/>
<line x1="120.5" y1="574.5" x2="120.5" y2="580.4" stroke="#000" stroke-width="1.3"/>
<line x1="116.5" y1="580.4" x2="124.5" y2="580.4" stroke="#000" stroke-width="1.2"/>
<rect x="111.5" y="520.8" width="18" height="53.700000000000045" fill="#8c8c8c" stroke="#000" stroke-width="1.3"/>
<line x1="111.5" y1="568.6" x2="129.5" y2="568.6" stroke="#000" stroke-width="1.3"/>
<circle cx="120.3" cy="516.3" r="2.15" fill="#fff" stroke="#000" stroke-width="0.85"/>
<circle cx="127.5" cy="520.2" r="2.15" fill="#fff" stroke="#000" stroke-width="0.85"/>
<circle cx="113.2" cy="524.5" r="2.15" fill="#fff" stroke="#000" stroke-width="0.85"/>
<circle cx="120.3" cy="568.6" r="2.15" fill="#fff" stroke="#000" stroke-width="0.85"/>
<circle cx="113.2" cy="575.1" r="2.15" fill="#fff" stroke="#000" stroke-width="0.85"/>
<circle cx="127.5" cy="575.1" r="2.15" fill="#fff" stroke="#000" stroke-width="0.85"/>
<circle cx="120.3" cy="580.4" r="2.15" fill="#fff" stroke="#000" stroke-width="0.85"/>
<line x1="148.6" y1="488.8" x2="148.6" y2="499.2" stroke="#000" stroke-width="1.3"/>
<line x1="144.6" y1="488.8" x2="152.6" y2="488.8" stroke="#000" stroke-width="1.2"/>
<line x1="148.6" y1="583.5" x2="148.6" y2="597.6" stroke="#000" stroke-width="1.3"/>
<line x1="144.6" y1="597.6" x2="152.6" y2="597.6" stroke="#000" stroke-width="1.2"/>
<rect x="139.29999999999998" y="499.2" width="18.6" height="84.30000000000001" fill="#000" stroke="#000" stroke-width="1.3"/>
<circle cx="148.5" cy="488.8" r="2.15" fill="#fff" stroke="#000" stroke-width="0.85"/>
<circle cx="148.5" cy="497.3" r="2.15" fill="#fff" stroke="#000" stroke-width="0.85"/>
<circle cx="141.7" cy="503.9" r="2.15" fill="#fff" stroke="#000" stroke-width="0.85"/>
<circle cx="155.4" cy="503.1" r="2.15" fill="#fff" stroke="#000" stroke-width="0.85"/>
<circle cx="148.5" cy="568.6" r="2.15" fill="#fff" stroke="#000" stroke-width="0.85"/>
<circle cx="148.5" cy="578.6" r="2.15" fill="#fff" stroke="#000" stroke-width="0.85"/>
<circle cx="148.5" cy="585.9" r="2.15" fill="#fff" stroke="#000" stroke-width="0.85"/>
<circle cx="148.5" cy="597.6" r="2.15" fill="#fff" stroke="#000" stroke-width="0.85"/>
<line x1="176.75" y1="559.4" x2="176.75" y2="565.7" stroke="#000" stroke-width="1.3"/>
<line x1="172.75" y1="559.4" x2="180.75" y2="559.4" stroke="#000" stroke-width="1.2"/>
<line x1="176.75" y1="577" x2="176.75" y2="583.9" stroke="#000" stroke-width="1.3"/>
<line x1="172.75" y1="583.9" x2="180.75" y2="583.9" stroke="#000" stroke-width="1.2"/>
<rect x="168.1" y="565.7" width="17.3" height="11.299999999999955" fill="#7adcf6" stroke="#000" stroke-width="1.3"/>
<line x1="168.1" y1="571.2" x2="185.4" y2="571.2" stroke="#000" stroke-width="1.3"/>
<circle cx="177" cy="559.4" r="2.15" fill="#fff" stroke="#000" stroke-width="0.85"/>
<circle cx="174" cy="564.7" r="2.15" fill="#fff" stroke="#000" stroke-width="0.85"/>
<circle cx="179.1" cy="567.3" r="2.15" fill="#fff" stroke="#000" stroke-width="0.85"/>
<circle cx="169.7" cy="574.7" r="2.15" fill="#fff" stroke="#000" stroke-width="0.85"/>
<circle cx="183.4" cy="574.7" r="2.15" fill="#fff" stroke="#000" stroke-width="0.85"/>
<circle cx="174" cy="577" r="2.15" fill="#fff" stroke="#000" stroke-width="0.85"/>
<circle cx="179.1" cy="578" r="2.15" fill="#fff" stroke="#000" stroke-width="0.85"/>
<circle cx="177" cy="583.9" r="2.15" fill="#fff" stroke="#000" stroke-width="0.85"/>
<line x1="205" y1="487.8" x2="205" y2="542.4" stroke="#000" stroke-width="1.3"/>
<line x1="201" y1="487.8" x2="209" y2="487.8" stroke="#000" stroke-width="1.2"/>
<line x1="205" y1="558.4" x2="205" y2="570.6" stroke="#000" stroke-width="1.3"/>
<line x1="201" y1="570.6" x2="209" y2="570.6" stroke="#000" stroke-width="1.2"/>
<rect x="196.2" y="542.4" width="17.6" height="16.0" fill="#4d9df0" stroke="#000" stroke-width="1.3"/>
<line x1="196.2" y1="542.4" x2="213.8" y2="542.4" stroke="#000" stroke-width="1.3"/>
<circle cx="205" cy="487.8" r="2.15" fill="#fff" stroke="#000" stroke-width="0.85"/>
<circle cx="197.5" cy="541.8" r="2.15" fill="#fff" stroke="#000" stroke-width="0.85"/>
<circle cx="205" cy="542.4" r="2.15" fill="#fff" stroke="#000" stroke-width="0.85"/>
<circle cx="211.9" cy="541.8" r="2.15" fill="#fff" stroke="#000" stroke-width="0.85"/>
<circle cx="205" cy="549.6" r="2.15" fill="#fff" stroke="#000" stroke-width="0.85"/>
<circle cx="205" cy="558.4" r="2.15" fill="#fff" stroke="#000" stroke-width="0.85"/>
<circle cx="205" cy="570.6" r="2.15" fill="#fff" stroke="#000" stroke-width="0.85"/>
<line x1="119.7" y1="491.3" x2="119.7" y2="499.3" stroke="#000" stroke-width="1.55"/>
<line x1="116.24" y1="493.3" x2="123.16" y2="497.3" stroke="#000" stroke-width="1.55"/>
<line x1="123.16" y1="493.3" x2="116.24" y2="497.3" stroke="#000" stroke-width="1.55"/>
<line x1="176.0" y1="536.8" x2="176.0" y2="544.8" stroke="#000" stroke-width="1.55"/>
<line x1="172.54" y1="538.8" x2="179.46" y2="542.8" stroke="#000" stroke-width="1.55"/>
<line x1="179.46" y1="538.8" x2="172.54" y2="542.8" stroke="#000" stroke-width="1.55"/>
<line x1="205.0" y1="465.1" x2="205.0" y2="473.1" stroke="#000" stroke-width="1.55"/>
<line x1="201.54" y1="467.1" x2="208.46" y2="471.1" stroke="#000" stroke-width="1.55"/>
<line x1="208.46" y1="467.1" x2="201.54" y2="471.1" stroke="#000" stroke-width="1.55"/>
<line x1="190.3" y1="440.3" x2="190.3" y2="448.3" stroke="#000" stroke-width="1.55"/>
<line x1="186.84" y1="442.3" x2="193.76" y2="446.3" stroke="#000" stroke-width="1.55"/>
<line x1="193.76" y1="442.3" x2="186.84" y2="446.3" stroke="#000" stroke-width="1.55"/>
<line x1="176.3" y1="451.5" x2="203.6" y2="451.5" stroke="#000" stroke-width="1.3"/>
<line x1="176.3" y1="451.5" x2="176.3" y2="457.4" stroke="#000" stroke-width="1.3"/>
<line x1="203.6" y1="451.5" x2="203.6" y2="457.4" stroke="#000" stroke-width="1.3"/>
<line x1="296.5" y1="450.59999999999997" x2="296.5" y2="597.8" stroke="#000" stroke-width="1.4"/>
<line x1="295.8" y1="597.8" x2="451.8" y2="597.8" stroke="#000" stroke-width="1.4"/>
<line x1="291.0" y1="451.2" x2="296.5" y2="451.2" stroke="#000" stroke-width="1.4"/>
<text x="287.5" y="455.3" font-size="10" font-weight="bold" font-style="normal" text-anchor="end" fill="#000" textLength="36" lengthAdjust="spacingAndGlyphs">0.0015</text>
<line x1="291.0" y1="500.06666666666666" x2="296.5" y2="500.06666666666666" stroke="#000" stroke-width="1.4"/>
<text x="287.5" y="504.1666666666667" font-size="10" font-weight="bold" font-style="normal" text-anchor="end" fill="#000" textLength="36" lengthAdjust="spacingAndGlyphs">0.0010</text>
<line x1="291.0" y1="548.9333333333333" x2="296.5" y2="548.9333333333333" stroke="#000" stroke-width="1.4"/>
<text x="287.5" y="553.0333333333333" font-size="10" font-weight="bold" font-style="normal" text-anchor="end" fill="#000" textLength="36" lengthAdjust="spacingAndGlyphs">0.0005</text>
<line x1="291.0" y1="597.8" x2="296.5" y2="597.8" stroke="#000" stroke-width="1.4"/>
<text x="287.5" y="601.9" font-size="10" font-weight="bold" font-style="normal" text-anchor="end" fill="#000" textLength="36" lengthAdjust="spacingAndGlyphs">0.0000</text>
<line x1="314.6" y1="597.8" x2="314.6" y2="603.4" stroke="#000" stroke-width="1.4"/>
<line x1="351.2" y1="597.8" x2="351.2" y2="603.4" stroke="#000" stroke-width="1.4"/>
<line x1="378.2" y1="597.8" x2="378.2" y2="603.4" stroke="#000" stroke-width="1.4"/>
<line x1="405.6" y1="597.8" x2="405.6" y2="603.4" stroke="#000" stroke-width="1.4"/>
<line x1="432.4" y1="597.8" x2="432.4" y2="603.4" stroke="#000" stroke-width="1.4"/>
<text transform="translate(243.3,524.9) rotate(-90)" x="0" y="0" font-size="13.6" font-weight="bold" font-style="normal" text-anchor="middle" fill="#111" textLength="137" lengthAdjust="spacingAndGlyphs">Relative abundance (%)</text>
<text x="341" y="434.7" font-size="16.4" font-weight="normal" font-style="italic" text-anchor="start" fill="#111" textLength="66.9" lengthAdjust="spacingAndGlyphs">UBA1819</text>
<text x="316" y="613.8" font-size="9.4" font-weight="normal" font-style="normal" text-anchor="middle" fill="#1a1a1a" textLength="17.2" lengthAdjust="spacingAndGlyphs">Veh</text>
<text x="351.9" y="613.8" font-size="9.4" font-weight="normal" font-style="normal" text-anchor="middle" fill="#1a1a1a" textLength="17.2" lengthAdjust="spacingAndGlyphs">Veh</text>
<text x="378.8" y="613.8" font-size="9.4" font-weight="normal" font-style="normal" text-anchor="middle" fill="#1a1a1a" textLength="12.6" lengthAdjust="spacingAndGlyphs">Flx</text>
<text x="406.2" y="613.8" font-size="9.4" font-weight="normal" font-style="normal" text-anchor="middle" fill="#1a1a1a" textLength="25.8" lengthAdjust="spacingAndGlyphs">Pruca</text>
<text x="433.2" y="613.8" font-size="9.4" font-weight="normal" font-style="normal" text-anchor="middle" fill="#1a1a1a" textLength="25.8" lengthAdjust="spacingAndGlyphs">Pruca</text>
<text x="405.7" y="622.8" font-size="9.4" font-weight="normal" font-style="normal" text-anchor="middle" fill="#1a1a1a" textLength="14.6" lengthAdjust="spacingAndGlyphs">0.5</text>
<text x="433" y="622.8" font-size="9.4" font-weight="normal" font-style="normal" text-anchor="middle" fill="#1a1a1a" textLength="14.6" lengthAdjust="spacingAndGlyphs">1.5</text>
<line x1="302.9" y1="627.8" x2="326.8" y2="627.8" stroke="#000" stroke-width="1.2"/>
<line x1="302.9" y1="625.0999999999999" x2="302.9" y2="630.5" stroke="#000" stroke-width="1.2"/>
<line x1="326.8" y1="625.0999999999999" x2="326.8" y2="630.5" stroke="#000" stroke-width="1.2"/>
<line x1="335.7" y1="629.3" x2="448.6" y2="629.3" stroke="#000" stroke-width="1.2"/>
<line x1="335.7" y1="626.5999999999999" x2="335.7" y2="632.0" stroke="#000" stroke-width="1.2"/>
<line x1="448.6" y1="626.5999999999999" x2="448.6" y2="632.0" stroke="#000" stroke-width="1.2"/>
<text x="315" y="636.4000000000001" font-size="9.4" font-weight="normal" font-style="normal" text-anchor="middle" fill="#1a1a1a" textLength="17.2" lengthAdjust="spacingAndGlyphs">Veh</text>
<text x="391.1" y="636.4000000000001" font-size="9.4" font-weight="normal" font-style="normal" text-anchor="middle" fill="#1a1a1a" textLength="26" lengthAdjust="spacingAndGlyphs">CORT</text>
<line x1="315.0" y1="564.5" x2="315.0" y2="574.7" stroke="#000" stroke-width="1.3"/>
<line x1="311.0" y1="574.7" x2="319.0" y2="574.7" stroke="#000" stroke-width="1.2"/>
<rect x="306.8" y="465.3" width="16.4" height="99.19999999999999" fill="#fff" stroke="#000" stroke-width="1.3"/>
<line x1="306.8" y1="503.2" x2="323.2" y2="503.2" stroke="#000" stroke-width="1.3"/>
<line x1="310" y1="464.3" x2="321" y2="464.3" stroke="#000" stroke-width="2.6"/>
<circle cx="307.9" cy="466.5" r="2.15" fill="#fff" stroke="#000" stroke-width="0.85"/>
<circle cx="321.6" cy="463.2" r="2.15" fill="#fff" stroke="#000" stroke-width="0.85"/>
<circle cx="314.9" cy="539.5" r="2.15" fill="#fff" stroke="#000" stroke-width="0.85"/>
<circle cx="314.9" cy="574.7" r="2.15" fill="#fff" stroke="#000" stroke-width="0.85"/>
<circle cx="343.5" cy="597.8" r="2.15" fill="#fff" stroke="#000" stroke-width="0.85"/>
<circle cx="347.4" cy="597.8" r="2.15" fill="#fff" stroke="#000" stroke-width="0.85"/>
<circle cx="351.3" cy="597.8" r="2.15" fill="#fff" stroke="#000" stroke-width="0.85"/>
<circle cx="355.2" cy="597.8" r="2.15" fill="#fff" stroke="#000" stroke-width="0.85"/>
<circle cx="358.6" cy="597.8" r="2.15" fill="#fff" stroke="#000" stroke-width="0.85"/>
<circle cx="370.4" cy="597.8" r="2.15" fill="#fff" stroke="#000" stroke-width="0.85"/>
<circle cx="374.3" cy="597.8" r="2.15" fill="#fff" stroke="#000" stroke-width="0.85"/>
<circle cx="378.2" cy="597.8" r="2.15" fill="#fff" stroke="#000" stroke-width="0.85"/>
<circle cx="382.1" cy="597.8" r="2.15" fill="#fff" stroke="#000" stroke-width="0.85"/>
<circle cx="386" cy="597.8" r="2.15" fill="#fff" stroke="#000" stroke-width="0.85"/>
<line x1="378.2" y1="565.5" x2="378.2" y2="597.8" stroke="#000" stroke-width="1.2"/>
<line x1="374.7" y1="565.5" x2="381.7" y2="565.5" stroke="#000" stroke-width="1.2"/>
<circle cx="378.2" cy="565.5" r="2.15" fill="#fff" stroke="#000" stroke-width="0.85"/>
<line x1="405.6" y1="574.1" x2="405.6" y2="597.8" stroke="#000" stroke-width="1.2"/>
<line x1="402.1" y1="574.1" x2="409.1" y2="574.1" stroke="#000" stroke-width="1.2"/>
<circle cx="405.6" cy="574.1" r="2.15" fill="#fff" stroke="#000" stroke-width="0.85"/>
<circle cx="397.8" cy="597.8" r="2.15" fill="#fff" stroke="#000" stroke-width="0.85"/>
<circle cx="401.2" cy="597.8" r="2.15" fill="#fff" stroke="#000" stroke-width="0.85"/>
<circle cx="404.6" cy="597.8" r="2.15" fill="#fff" stroke="#000" stroke-width="0.85"/>
<circle cx="408" cy="597.8" r="2.15" fill="#fff" stroke="#000" stroke-width="0.85"/>
<circle cx="411.4" cy="597.8" r="2.15" fill="#fff" stroke="#000" stroke-width="0.85"/>
<circle cx="414.2" cy="597.8" r="2.15" fill="#fff" stroke="#000" stroke-width="0.85"/>
<line x1="432.9" y1="558.9" x2="432.9" y2="568.8" stroke="#000" stroke-width="1.2"/>
<line x1="429.4" y1="558.9" x2="436.4" y2="558.9" stroke="#000" stroke-width="1.2"/>
<rect x="424.3" y="568.8" width="17.3" height="29" fill="#4d9df0" stroke="#000" stroke-width="1.3"/>
<circle cx="432.9" cy="558.9" r="2.15" fill="#fff" stroke="#000" stroke-width="0.85"/>
<circle cx="432.9" cy="568" r="2.15" fill="#fff" stroke="#000" stroke-width="0.85"/>
<circle cx="432.9" cy="575.6" r="2.15" fill="#fff" stroke="#000" stroke-width="0.85"/>
<circle cx="425.2" cy="597.8" r="2.15" fill="#fff" stroke="#000" stroke-width="0.85"/>
<circle cx="430" cy="597.8" r="2.15" fill="#fff" stroke="#000" stroke-width="0.85"/>
<circle cx="435.5" cy="597.8" r="2.15" fill="#fff" stroke="#000" stroke-width="0.85"/>
<circle cx="440.5" cy="597.8" r="2.15" fill="#fff" stroke="#000" stroke-width="0.85"/>
<line x1="352.8" y1="528.9" x2="352.8" y2="536.9" stroke="#000" stroke-width="1.55"/>
<line x1="349.34" y1="530.9" x2="356.26" y2="534.9" stroke="#000" stroke-width="1.55"/>
<line x1="356.26" y1="530.9" x2="349.34" y2="534.9" stroke="#000" stroke-width="1.55"/>
<line x1="378.4" y1="528.9" x2="378.4" y2="536.9" stroke="#000" stroke-width="1.55"/>
<line x1="374.94" y1="530.9" x2="381.86" y2="534.9" stroke="#000" stroke-width="1.55"/>
<line x1="381.86" y1="530.9" x2="374.94" y2="534.9" stroke="#000" stroke-width="1.55"/>
<line x1="403.6" y1="528.9" x2="403.6" y2="536.9" stroke="#000" stroke-width="1.55"/>
<line x1="400.14" y1="530.9" x2="407.06" y2="534.9" stroke="#000" stroke-width="1.55"/>
<line x1="407.06" y1="530.9" x2="400.14" y2="534.9" stroke="#000" stroke-width="1.55"/>
<line x1="428.7" y1="528.9" x2="428.7" y2="536.9" stroke="#000" stroke-width="1.55"/>
<line x1="425.24" y1="530.9" x2="432.16" y2="534.9" stroke="#000" stroke-width="1.55"/>
<line x1="432.16" y1="530.9" x2="425.24" y2="534.9" stroke="#000" stroke-width="1.55"/>
<line x1="524" y1="455.4" x2="524" y2="595.6" stroke="#000" stroke-width="1.4"/>
<line x1="523.3" y1="595.6" x2="684" y2="595.6" stroke="#000" stroke-width="1.4"/>
<line x1="518.5" y1="456.0" x2="524" y2="456.0" stroke="#000" stroke-width="1.4"/>
<text x="514" y="460.1" font-size="10" font-weight="bold" font-style="normal" text-anchor="end" fill="#000" textLength="29.4" lengthAdjust="spacingAndGlyphs">0.008</text>
<line x1="518.5" y1="490.9" x2="524" y2="490.9" stroke="#000" stroke-width="1.4"/>
<text x="514" y="495.0" font-size="10" font-weight="bold" font-style="normal" text-anchor="end" fill="#000" textLength="29.4" lengthAdjust="spacingAndGlyphs">0.006</text>
<line x1="518.5" y1="525.8" x2="524" y2="525.8" stroke="#000" stroke-width="1.4"/>
<text x="514" y="529.9" font-size="10" font-weight="bold" font-style="normal" text-anchor="end" fill="#000" textLength="29.4" lengthAdjust="spacingAndGlyphs">0.004</text>
<line x1="518.5" y1="560.7" x2="524" y2="560.7" stroke="#000" stroke-width="1.4"/>
<text x="514" y="564.8000000000001" font-size="10" font-weight="bold" font-style="normal" text-anchor="end" fill="#000" textLength="29.4" lengthAdjust="spacingAndGlyphs">0.002</text>
<line x1="518.5" y1="595.6" x2="524" y2="595.6" stroke="#000" stroke-width="1.4"/>
<text x="514" y="599.7" font-size="10" font-weight="bold" font-style="normal" text-anchor="end" fill="#000" textLength="29.4" lengthAdjust="spacingAndGlyphs">0.000</text>
<line x1="542.6" y1="595.6" x2="542.6" y2="601.2" stroke="#000" stroke-width="1.4"/>
<line x1="579.9" y1="595.6" x2="579.9" y2="601.2" stroke="#000" stroke-width="1.4"/>
<line x1="608.1" y1="595.6" x2="608.1" y2="601.2" stroke="#000" stroke-width="1.4"/>
<line x1="636.4" y1="595.6" x2="636.4" y2="601.2" stroke="#000" stroke-width="1.4"/>
<line x1="664.6" y1="595.6" x2="664.6" y2="601.2" stroke="#000" stroke-width="1.4"/>
<text transform="translate(475.6,525.4) rotate(-90)" x="0" y="0" font-size="13.6" font-weight="bold" font-style="normal" text-anchor="middle" fill="#111" textLength="130.7" lengthAdjust="spacingAndGlyphs">Relative abundance (%)</text>
<text x="544.3" y="434.7" font-size="16.4" font-weight="normal" font-style="italic" text-anchor="start" fill="#111" textLength="102.5" lengthAdjust="spacingAndGlyphs">Ruminococcus</text>
<text x="544" y="611.6" font-size="9.4" font-weight="normal" font-style="normal" text-anchor="middle" fill="#1a1a1a" textLength="17.2" lengthAdjust="spacingAndGlyphs">Veh</text>
<text x="580.1" y="611.6" font-size="9.4" font-weight="normal" font-style="normal" text-anchor="middle" fill="#1a1a1a" textLength="17.2" lengthAdjust="spacingAndGlyphs">Veh</text>
<text x="607.2" y="611.6" font-size="9.4" font-weight="normal" font-style="normal" text-anchor="middle" fill="#1a1a1a" textLength="12.6" lengthAdjust="spacingAndGlyphs">Flx</text>
<text x="634.1" y="611.6" font-size="9.4" font-weight="normal" font-style="normal" text-anchor="middle" fill="#1a1a1a" textLength="25.8" lengthAdjust="spacingAndGlyphs">Pruca</text>
<text x="661" y="611.6" font-size="9.4" font-weight="normal" font-style="normal" text-anchor="middle" fill="#1a1a1a" textLength="25.8" lengthAdjust="spacingAndGlyphs">Pruca</text>
<text x="633.9" y="620.6" font-size="9.4" font-weight="normal" font-style="normal" text-anchor="middle" fill="#1a1a1a" textLength="14.6" lengthAdjust="spacingAndGlyphs">0.5</text>
<text x="661.3" y="620.6" font-size="9.4" font-weight="normal" font-style="normal" text-anchor="middle" fill="#1a1a1a" textLength="14.6" lengthAdjust="spacingAndGlyphs">1.5</text>
<line x1="531.8" y1="626.9" x2="554.3" y2="626.9" stroke="#000" stroke-width="1.2"/>
<line x1="531.8" y1="624.1999999999999" x2="531.8" y2="629.6" stroke="#000" stroke-width="1.2"/>
<line x1="554.3" y1="624.1999999999999" x2="554.3" y2="629.6" stroke="#000" stroke-width="1.2"/>
<line x1="563.8" y1="627.8" x2="676.5" y2="627.8" stroke="#000" stroke-width="1.2"/>
<line x1="563.8" y1="625.0999999999999" x2="563.8" y2="630.5" stroke="#000" stroke-width="1.2"/>
<line x1="676.5" y1="625.0999999999999" x2="676.5" y2="630.5" stroke="#000" stroke-width="1.2"/>
<text x="543.2" y="636.4000000000001" font-size="9.4" font-weight="normal" font-style="normal" text-anchor="middle" fill="#1a1a1a" textLength="17.2" lengthAdjust="spacingAndGlyphs">Veh</text>
<text x="619.3" y="636.4000000000001" font-size="9.4" font-weight="normal" font-style="normal" text-anchor="middle" fill="#1a1a1a" textLength="26" lengthAdjust="spacingAndGlyphs">CORT</text>
<line x1="542.7" y1="532.8" x2="542.7" y2="540" stroke="#000" stroke-width="1.3"/>
<line x1="538.7" y1="532.8" x2="546.7" y2="532.8" stroke="#000" stroke-width="1.2"/>
<line x1="542.7" y1="585.3" x2="542.7" y2="589.3" stroke="#000" stroke-width="1.3"/>
<line x1="538.7" y1="589.3" x2="546.7" y2="589.3" stroke="#000" stroke-width="1.2"/>
<rect x="533.9000000000001" y="540" width="17.6" height="45.299999999999955" fill="#fff" stroke="#000" stroke-width="1.3"/>
<line x1="533.9000000000001" y1="565.9" x2="551.5" y2="565.9" stroke="#000" stroke-width="1.3"/>
<circle cx="542.7" cy="532.8" r="2.15" fill="#fff" stroke="#000" stroke-width="0.85"/>
<circle cx="542.7" cy="558.1" r="2.15" fill="#fff" stroke="#000" stroke-width="0.85"/>
<circle cx="542.7" cy="573.3" r="2.15" fill="#fff" stroke="#000" stroke-width="0.85"/>
<circle cx="542.7" cy="589.3" r="2.15" fill="#fff" stroke="#000" stroke-width="0.85"/>
<circle cx="572.2" cy="595.6" r="2.15" fill="#fff" stroke="#000" stroke-width="0.85"/>
<circle cx="576.2" cy="595.6" r="2.15" fill="#fff" stroke="#000" stroke-width="0.85"/>
<circle cx="580.2" cy="595.6" r="2.15" fill="#fff" stroke="#000" stroke-width="0.85"/>
<circle cx="584.2" cy="595.6" r="2.15" fill="#fff" stroke="#000" stroke-width="0.85"/>
<circle cx="588" cy="595.6" r="2.15" fill="#fff" stroke="#000" stroke-width="0.85"/>
<line x1="608.3" y1="577.4" x2="608.3" y2="584.2" stroke="#000" stroke-width="1.2"/>
<line x1="604.8" y1="577.4" x2="611.8" y2="577.4" stroke="#000" stroke-width="1.2"/>
<rect x="599.2" y="584.2" width="18.3" height="11.4" fill="#000" stroke="#000" stroke-width="1.3"/>
<circle cx="608.1" cy="577.4" r="2.15" fill="#fff" stroke="#000" stroke-width="0.85"/>
<circle cx="611" cy="582.7" r="2.15" fill="#fff" stroke="#000" stroke-width="0.85"/>
<circle cx="607.5" cy="586.3" r="2.15" fill="#fff" stroke="#000" stroke-width="0.85"/>
<circle cx="600.5" cy="595.6" r="2.15" fill="#fff" stroke="#000" stroke-width="0.85"/>
<circle cx="604.5" cy="595.6" r="2.15" fill="#fff" stroke="#000" stroke-width="0.85"/>
<circle cx="608.5" cy="595.6" r="2.15" fill="#fff" stroke="#000" stroke-width="0.85"/>
<circle cx="612.5" cy="595.6" r="2.15" fill="#fff" stroke="#000" stroke-width="0.85"/>
<circle cx="616.3" cy="595.6" r="2.15" fill="#fff" stroke="#000" stroke-width="0.85"/>
<line x1="636.45" y1="535.5" x2="636.45" y2="556.8" stroke="#000" stroke-width="1.3"/>
<line x1="632.45" y1="535.5" x2="640.45" y2="535.5" stroke="#000" stroke-width="1.2"/>
<rect x="627.9000000000001" y="556.8" width="17.1" height="38.80000000000007" fill="#7adcf6" stroke="#000" stroke-width="1.3"/>
<line x1="627.9000000000001" y1="574.8" x2="645.0" y2="574.8" stroke="#000" stroke-width="1.3"/>
<circle cx="636.4" cy="535.5" r="2.15" fill="#fff" stroke="#000" stroke-width="0.85"/>
<circle cx="636.4" cy="554.7" r="2.15" fill="#fff" stroke="#000" stroke-width="0.85"/>
<circle cx="636.4" cy="561.5" r="2.15" fill="#fff" stroke="#000" stroke-width="0.85"/>
<circle cx="636.4" cy="567.4" r="2.15" fill="#fff" stroke="#000" stroke-width="0.85"/>
<circle cx="636.4" cy="582.2" r="2.15" fill="#fff" stroke="#000" stroke-width="0.85"/>
<circle cx="629.5" cy="595.6" r="2.15" fill="#fff" stroke="#000" stroke-width="0.85"/>
<circle cx="636.4" cy="595.6" r="2.15" fill="#fff" stroke="#000" stroke-width="0.85"/>
<circle cx="643.3" cy="595.6" r="2.15" fill="#fff" stroke="#000" stroke-width="0.85"/>
<line x1="664.9" y1="488.9" x2="664.9" y2="532" stroke="#000" stroke-width="1.3"/>
<line x1="660.9" y1="488.9" x2="668.9" y2="488.9" stroke="#000" stroke-width="1.2"/>
<line x1="664.9" y1="590.7" x2="664.9" y2="595.6" stroke="#000" stroke-width="1.3"/>
<line x1="660.9" y1="595.6" x2="668.9" y2="595.6" stroke="#000" stroke-width="1.2"/>
<rect x="656.1999999999999" y="532" width="17.4" height="58.700000000000045" fill="#4d9df0" stroke="#000" stroke-width="1.3"/>
<line x1="656.1999999999999" y1="576.8" x2="673.6" y2="576.8" stroke="#000" stroke-width="1.3"/>
<circle cx="665" cy="488.9" r="2.15" fill="#fff" stroke="#000" stroke-width="0.85"/>
<circle cx="665" cy="531.1" r="2.15" fill="#fff" stroke="#000" stroke-width="0.85"/>
<circle cx="657.7" cy="573.3" r="2.15" fill="#fff" stroke="#000" stroke-width="0.85"/>
<circle cx="657.7" cy="577.4" r="2.15" fill="#fff" stroke="#000" stroke-width="0.85"/>
<circle cx="672.1" cy="577.4" r="2.15" fill="#fff" stroke="#000" stroke-width="0.85"/>
<circle cx="665" cy="591" r="2.15" fill="#fff" stroke="#000" stroke-width="0.85"/>
<circle cx="665" cy="595.6" r="2.15" fill="#fff" stroke="#000" stroke-width="0.85"/>
<line x1="579.2" y1="550.7" x2="579.2" y2="558.7" stroke="#000" stroke-width="1.55"/>
<line x1="575.74" y1="552.7" x2="582.66" y2="556.7" stroke="#000" stroke-width="1.55"/>
<line x1="582.66" y1="552.7" x2="575.74" y2="556.7" stroke="#000" stroke-width="1.55"/>
<line x1="602.8" y1="550.7" x2="602.8" y2="558.7" stroke="#000" stroke-width="1.55"/>
<line x1="599.34" y1="552.7" x2="606.26" y2="556.7" stroke="#000" stroke-width="1.55"/>
<line x1="606.26" y1="552.7" x2="599.34" y2="556.7" stroke="#000" stroke-width="1.55"/>
<text x="636.1" y="517.7" font-size="14" font-weight="normal" font-style="normal" text-anchor="middle" fill="#222">$</text>
<text x="664.7" y="473" font-size="14" font-weight="normal" font-style="normal" text-anchor="middle" fill="#222">$</text>
</svg></body></html>
